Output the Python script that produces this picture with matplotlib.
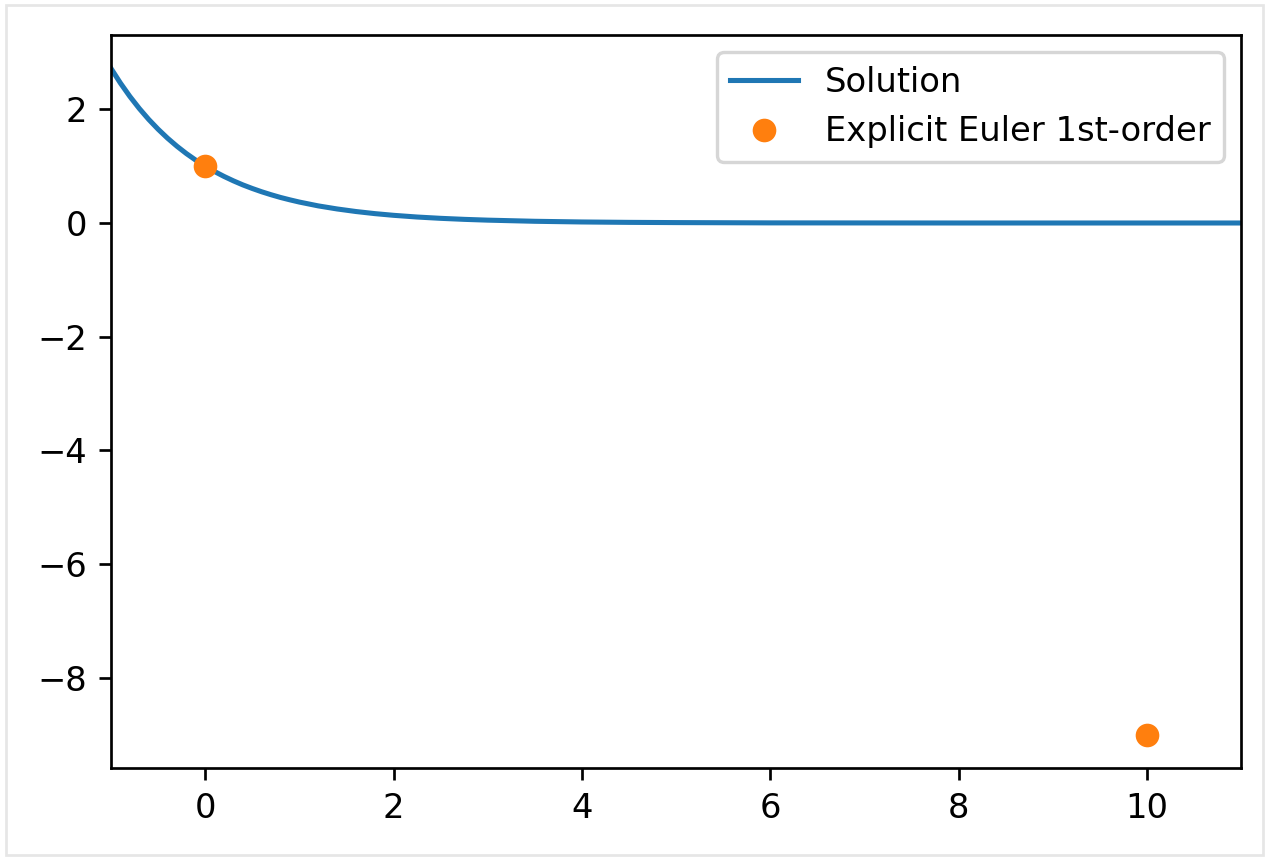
import matplotlib.pyplot as plt
from matplotlib.patches import Rectangle

# solution curve, values
sol_x = [-1.0, -0.9, -0.8, -0.7, -0.6, -0.5, -0.4, -0.3, -0.2, -0.1,
         0.0, 0.1, 0.2, 0.3, 0.4, 0.5, 0.6, 0.7, 0.8, 0.9,
         1.0, 1.2, 1.4, 1.6, 1.8, 2.0, 2.25, 2.5, 2.75, 3.0,
         3.5, 4.0, 4.5, 5.0, 6.0, 7.0, 8.0, 9.0, 10.0, 11.0]
sol_y = [2.718, 2.460, 2.226, 2.014, 1.822, 1.649, 1.492, 1.350, 1.221, 1.105,
         1.0, 0.905, 0.819, 0.741, 0.670, 0.607, 0.549, 0.497, 0.449, 0.407,
         0.368, 0.301, 0.247, 0.202, 0.165, 0.135, 0.105, 0.082, 0.064, 0.050,
         0.030, 0.018, 0.011, 0.007, 0.002, 0.001, 0.0, 0.0, 0.0, 0.0]

# explicit Euler points
euler_x = [0, 10]
euler_y = [1, -9]

dpi = 243
fig = plt.figure(figsize=(1269 / dpi, 858 / dpi), dpi=dpi)
ax = fig.add_axes([0.0875, 0.105, 0.8905, 0.854])

ax.plot(sol_x, sol_y, label="Solution")
ax.plot(euler_x, euler_y, "o", label="Explicit Euler 1st-order")
ax.set_xlim(-1, 11)
ax.legend(loc="upper right")

# thin grey frame around the figure
fig.patches.append(Rectangle((0.005, 0.004), 0.99, 0.99, transform=fig.transFigure,
                             fill=False, edgecolor="#e6e6e6", linewidth=0.8))

fig.savefig("out.png", dpi=dpi)
